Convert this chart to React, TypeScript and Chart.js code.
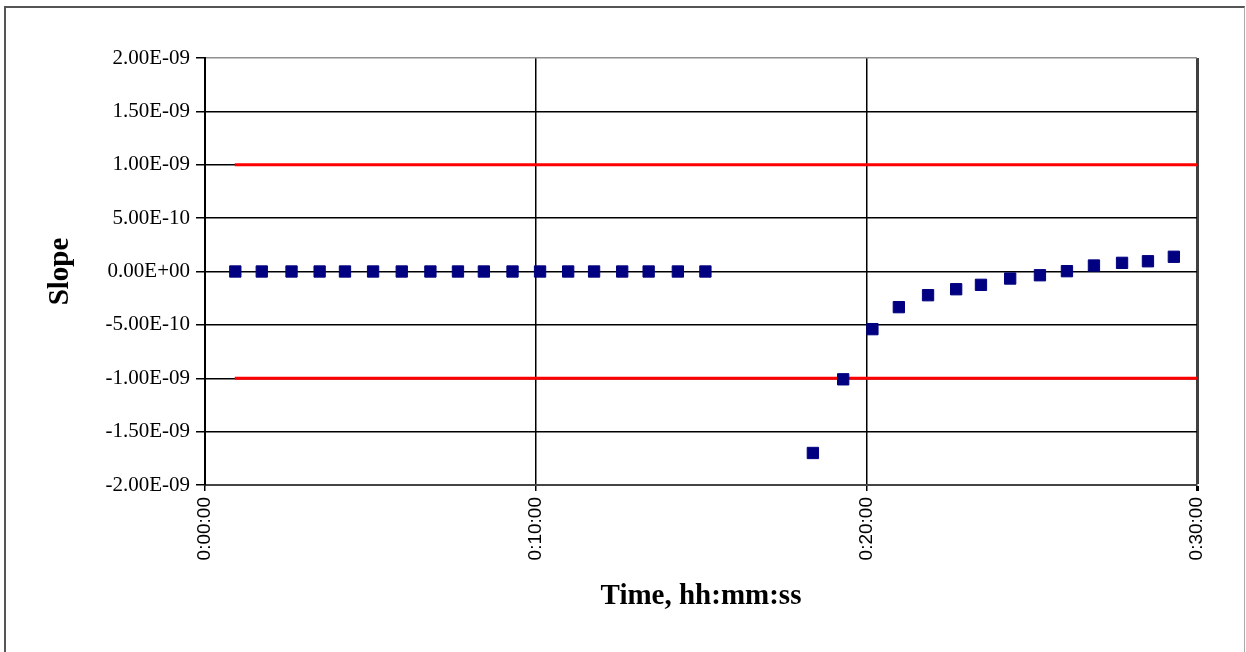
import React, { useEffect, useRef } from "react";
import { Chart, registerables } from "chart.js";

Chart.register(...registerables);

// Time in seconds from start
const timesEarly = [55, 103, 157, 208, 254, 305, 357, 409, 459, 506, 558, 608, 659, 706, 757, 805, 858, 908];
const slopesEarly = [0, 0, 0, 0, 0, 0, 0, 0, 0, 0, 0, 0, 0, 0, 0, 0, 0, 0];
const timesLate = [1103, 1158, 1211, 1259, 1312, 1363, 1408, 1461, 1515, 1564, 1613, 1664, 1711, 1758];
const slopesLate = [
  -1.7e-9, -1.01e-9, -5.4e-10, -3.34e-10, -2.22e-10, -1.66e-10, -1.25e-10, -6.6e-11, -3.5e-11, 3e-12, 5.6e-11,
  8.1e-11, 9.6e-11, 1.38e-10,
];
const limitTimes = [54, 1800];
const upperLimit = [1e-9, 1e-9];
const lowerLimit = [-1e-9, -1e-9];
const xTickSeconds = [0, 600, 1200, 1800];
const yTickValues = [-2e-9, -1.5e-9, -1e-9, -5e-10, 0, 5e-10, 1e-9, 1.5e-9, 2e-9];

function fmtTime(s: number): string {
  const h = Math.floor(s / 3600);
  const m = Math.floor((s % 3600) / 60);
  const sec = Math.round(s % 60);
  return `${h}:${String(m).padStart(2, "0")}:${String(sec).padStart(2, "0")}`;
}

function fmtSci(v: number): string {
  if (Math.abs(v) < 1e-15) return "0.00E+00";
  const s = v.toExponential(2); // e.g. -1.50e-9
  const [mant, exp] = s.split("e");
  const sign = exp[0] === "-" ? "-" : "+";
  const digits = exp.replace(/[+-]/, "").padStart(2, "0");
  return `${mant}E${sign}${digits}`;
}

export default function App() {
  const ref = useRef<HTMLCanvasElement | null>(null);

  useEffect(() => {
    if (!ref.current) return;
    const pts = (xs: number[], ys: number[]) => xs.map((x, i) => ({ x, y: ys[i] }));
    const chart = new Chart(ref.current, {
      type: "scatter",
      data: {
        datasets: [
          {
            label: "Upper",
            data: pts(limitTimes, upperLimit),
            showLine: true,
            borderColor: "#ff0000",
            borderWidth: 3,
            pointRadius: 0,
            order: 2,
          },
          {
            label: "Lower",
            data: pts(limitTimes, lowerLimit),
            showLine: true,
            borderColor: "#ff0000",
            borderWidth: 3,
            pointRadius: 0,
            order: 2,
          },
          {
            label: "Slope",
            data: [...pts(timesEarly, slopesEarly), ...pts(timesLate, slopesLate)],
            showLine: false,
            pointStyle: "rect",
            pointRadius: 8,
            backgroundColor: "#000080",
            borderColor: "#000080",
            borderWidth: 1,
            order: 1,
          },
        ],
      },
      options: {
        responsive: false,
        animation: false,
        devicePixelRatio: 1,
        layout: { padding: { left: 0, top: 58, right: 49, bottom: 0 } },
        plugins: { legend: { display: false }, tooltip: { enabled: false } },
        scales: {
          x: {
            type: "linear",
            min: 0,
            max: 1800,
            afterFit: (s: any) => {
              s.height = 167;
            },
            afterBuildTicks: (s: any) => {
              s.ticks = xTickSeconds.map((v) => ({ value: v }));
            },
            ticks: {
              callback: (v: any) => fmtTime(Number(v)),
              minRotation: 90,
              maxRotation: 90,
              autoSkip: false,
              padding: 6,
              color: "#000",
              font: { family: "'Liberation Sans', Arial, sans-serif", size: 19 },
            },
            grid: {
              color: (c: any) => (c.tick && c.tick.value === 1800 ? "#404040" : "#000"),
              lineWidth: (c: any) => (c.tick && c.tick.value === 1800 ? 3 : 1.5),
              tickColor: "#000",
              tickLength: 6,
            },
            border: { color: "#444", width: 2 },
            title: {
              display: true,
              text: "Time, hh:mm:ss",
              color: "#000",
              font: { family: "'Liberation Serif', 'Times New Roman', serif", size: 29, weight: "bold" },
              padding: { top: 0, bottom: 38 },
            },
          },
          y: {
            type: "linear",
            min: -2e-9,
            max: 2e-9,
            afterFit: (s: any) => {
              s.width = 205;
            },
            afterBuildTicks: (s: any) => {
              s.ticks = yTickValues.map((v) => ({ value: v }));
            },
            ticks: {
              callback: (v: any) => fmtSci(Number(v)),
              padding: 6,
              color: "#000",
              font: { family: "'Liberation Serif', 'Times New Roman', serif", size: 21 },
            },
            grid: {
              color: (c: any) => (c.tick && Math.abs(c.tick.value - 2e-9) < 1e-15 ? "#909090" : "#000"),
              lineWidth: 1.5,
              tickColor: "#000",
              tickLength: 9,
            },
            border: { color: "#000", width: 2 },
            title: {
              display: true,
              text: "Slope",
              color: "#000",
              font: { family: "'Liberation Serif', 'Times New Roman', serif", size: 29, weight: "bold" },
              padding: { top: 43, bottom: 0 },
            },
          },
        },
      },
    } as any);
    return () => chart.destroy();
  }, []);

  return (
    <div
      style={{
        position: "fixed",
        left: 0,
        top: 0,
        width: 1246,
        height: 652,
        background: "#fff",
        overflow: "hidden",
      }}
    >
      <canvas ref={ref} width={1246} height={652} style={{ position: "absolute", left: 0, top: 0 }} />
      <div
        style={{
          position: "absolute",
          left: 4,
          top: 6,
          width: 1238,
          height: 700,
          borderTop: "2px solid #555",
          borderLeft: "2px solid #555",
          borderRight: "1px solid #aaa",
          pointerEvents: "none",
        }}
      />
    </div>
  );
}
